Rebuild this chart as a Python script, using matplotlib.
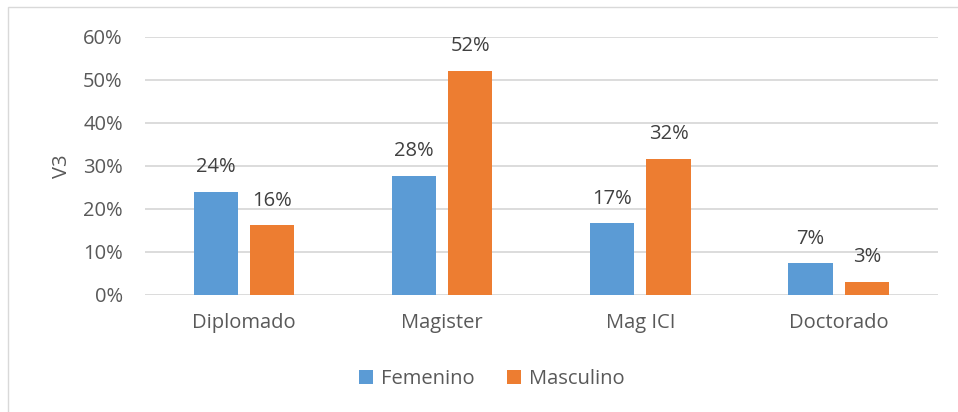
import matplotlib
matplotlib.use("Agg")
import matplotlib.pyplot as plt
import numpy as np
from matplotlib.patches import Rectangle

categories = ["Diplomado", "Magister", "Mag ICI", "Doctorado"]
femenino = [0.24, 0.277, 0.166, 0.073]
masculino = [0.161, 0.521, 0.316, 0.030]
series_names = ["Femenino", "Masculino"]
yticks = [0, 0.1, 0.2, 0.3, 0.4, 0.5, 0.6]

plt.rcParams['font.family'] = ['Open Sans', 'DejaVu Sans']
txt = '#595959'
fs = 14.5
fig = plt.figure(figsize=(9.58, 4.12), dpi=100)
W, H = 958, 412
ax = fig.add_axes([145 / W, 1 - 294.7 / H, (937.7 - 145) / W, (294.7 - 36.7) / H])

# outer frame
fig.patches.append(Rectangle((7.5 / W, -0.1), 1.2, (412 - 7.5) / H + 0.1, transform=fig.transFigure,
                             fill=False, edgecolor='#D9D9D9', linewidth=1.0))

x = np.arange(len(categories))
bw = 0.2235
gap = 0.06
off = (bw + gap) / 2
b1 = ax.bar(x - off, femenino, bw, color='#5B9BD5', label=series_names[0], zorder=3)
b2 = ax.bar(x + off, masculino, bw, color='#ED7D31', label=series_names[1], zorder=3)

for bars, vals in ((b1, femenino), (b2, masculino)):
    for r, v in zip(bars, vals):
        ax.annotate(f"{round(v * 100):.0f}%", (r.get_x() + r.get_width() / 2, v),
                    xytext=(0, 14), textcoords='offset points', ha='center', va='baseline',
                    fontsize=fs, color='#404040')

ax.set_xlim(-0.5, len(categories) - 0.5)
ax.set_ylim(0, 0.6)
ax.set_yticks(yticks)
ax.set_yticklabels([f"{int(round(t * 100))}%" for t in yticks], fontsize=fs, color=txt)
ax.set_xticks(x)
ax.set_xticklabels(categories, fontsize=fs, color=txt)
ax.tick_params(axis='both', length=0)
ax.tick_params(axis='x', pad=13)
ax.tick_params(axis='y', pad=16)
ax.grid(axis='y', color='#D9D9D9', linewidth=1.3, zorder=0)
for s in ax.spines.values():
    s.set_visible(False)
ax.set_ylabel("V3", fontsize=fs, color=txt, labelpad=8)

ax.legend(loc='center', bbox_to_anchor=(492 / W, 1 - 379 / H), bbox_transform=fig.transFigure,
          ncol=2, frameon=False, fontsize=fs, handlelength=0.7, handleheight=0.7,
          handletextpad=0.4, columnspacing=1.6, labelcolor=txt)

fig.savefig("out.png", dpi=100)
